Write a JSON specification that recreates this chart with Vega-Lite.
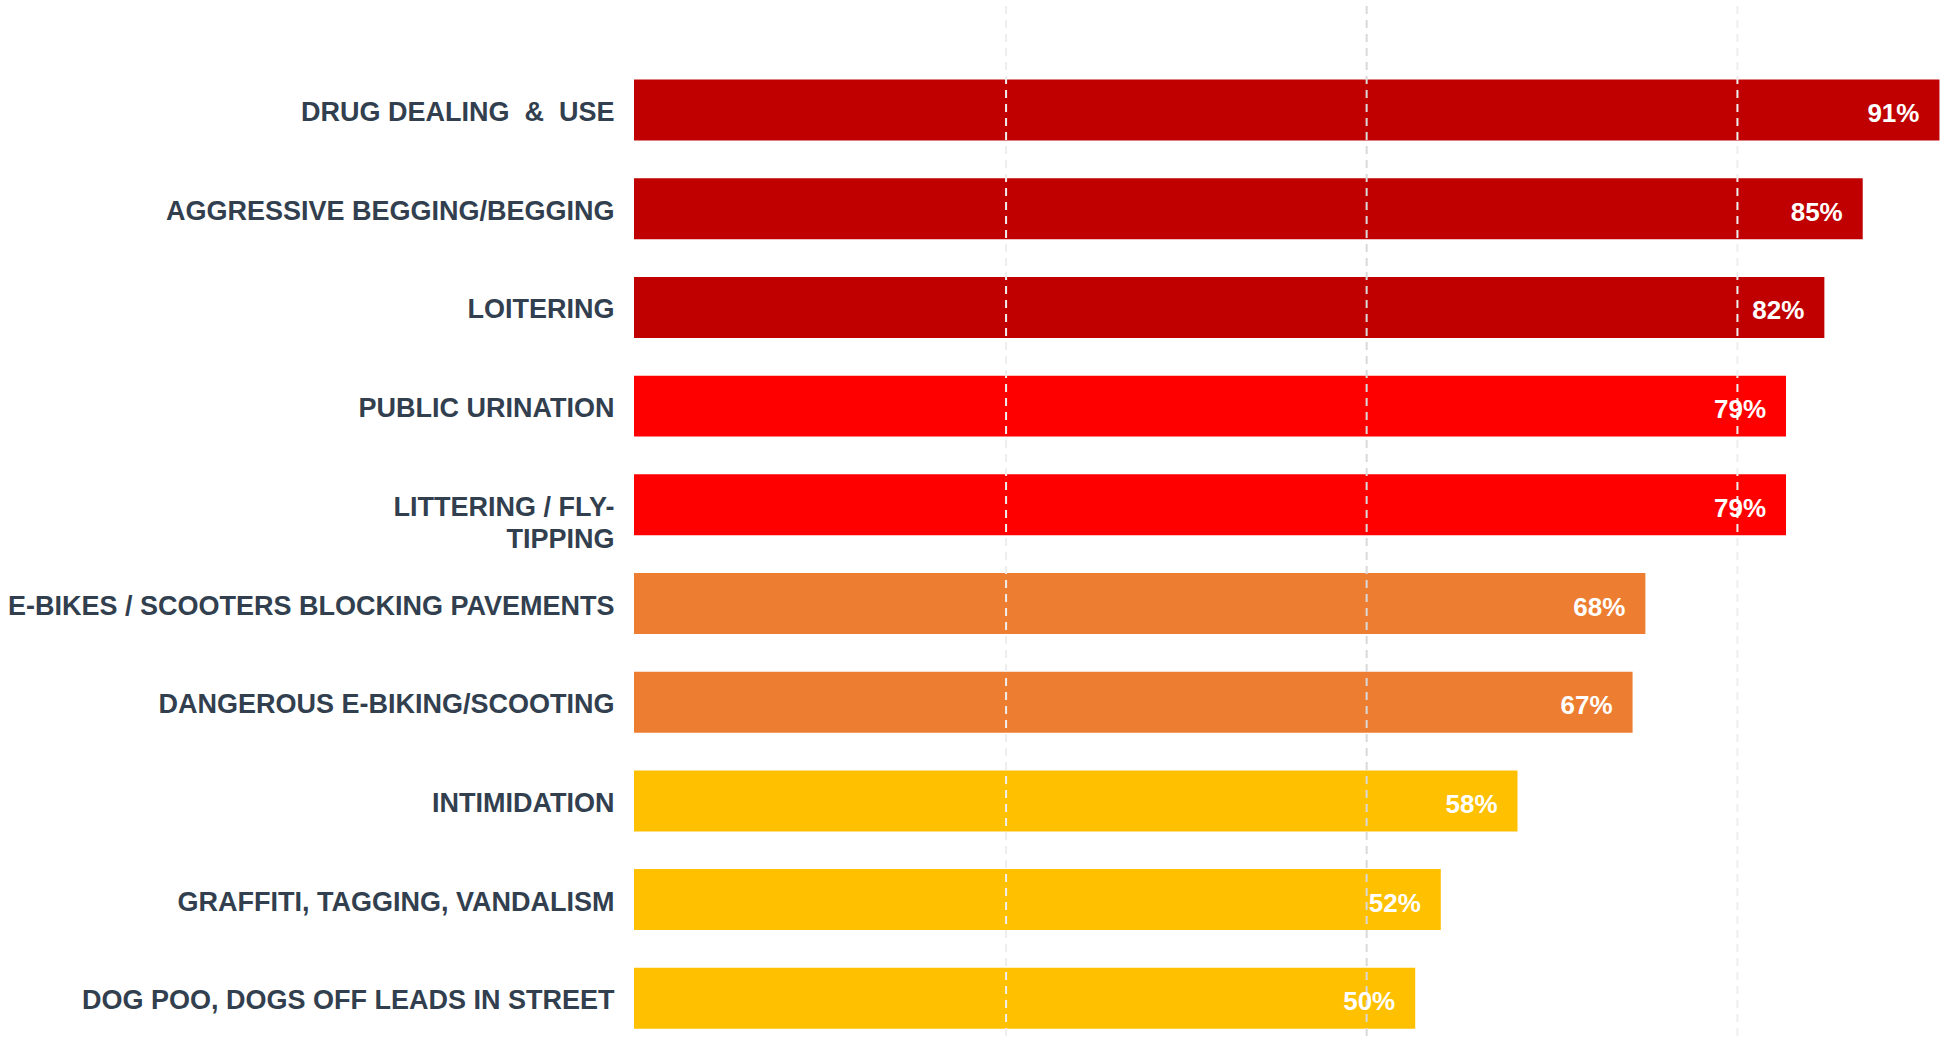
{
  "$schema": "https://vega.github.io/schema/vega-lite/v6.json",
  "width": 1308,
  "height": 1032,
  "autosize": {"type": "none"},
  "padding": {"left": 634, "top": 6, "right": 0, "bottom": 6},
  "background": "white",
  "config": {"view": {"stroke": null}},
  "datasets": {
    "issues": [
      {"issue": "DRUG DEALING\u00a0 &\u00a0 USE", "pct": 0.91, "tier": "Highest"},
      {"issue": "AGGRESSIVE BEGGING/BEGGING", "pct": 0.85, "tier": "Highest"},
      {"issue": "LOITERING", "pct": 0.82, "tier": "Highest"},
      {"issue": "PUBLIC URINATION", "pct": 0.79, "tier": "High"},
      {"issue": "LITTERING / FLY-TIPPING", "pct": 0.79, "tier": "High"},
      {"issue": "E-BIKES / SCOOTERS BLOCKING PAVEMENTS", "pct": 0.68, "tier": "Medium"},
      {"issue": "DANGEROUS E-BIKING/SCOOTING", "pct": 0.67, "tier": "Medium"},
      {"issue": "INTIMIDATION", "pct": 0.58, "tier": "Lower"},
      {"issue": "GRAFFITI, TAGGING, VANDALISM", "pct": 0.52, "tier": "Lower"},
      {"issue": "DOG POO, DOGS OFF LEADS IN STREET", "pct": 0.5, "tier": "Lower"}
    ],
    "gridMinor": [{"pct": 0.18}, {"pct": 0.752}],
    "gridMajor": [{"pct": 0.462}]
  },
  "layer": [
    {
      "data": {"name": "issues"},
      "mark": {"type": "bar"},
      "encoding": {
        "y": {
          "field": "issue",
          "type": "nominal",
          "sort": null,
          "scale": {"paddingInner": 0.382, "paddingOuter": 0.419, "align": 0.889},
          "axis": {
            "title": null,
            "domain": false,
            "ticks": false,
            "grid": false,
            "labelFont": "Liberation Sans",
            "labelFontWeight": "bold",
            "labelFontSize": 27,
            "labelColor": "#323F4F",
            "labelPadding": 20,
            "labelLimit": 700,
            "labelLineHeight": 32,
            "labelOffset": 3,
            "labelExpr": "datum.value === 'LITTERING / FLY-TIPPING' ? ['LITTERING / FLY-', 'TIPPING'] : datum.value"
          }
        },
        "x": {"field": "pct", "type": "quantitative", "scale": {"domain": [-0.111, 0.912]}, "axis": null},
        "x2": {"datum": -0.111},
        "color": {
          "field": "tier",
          "type": "nominal",
          "scale": {"domain": ["Highest", "High", "Medium", "Lower"], "range": ["#C00000", "#FF0000", "#ED7D31", "#FFC000"]},
          "legend": null
        }
      }
    },
    {
      "data": {"name": "gridMinor"},
      "mark": {"type": "rule", "color": "#EEEEEE", "strokeWidth": 2, "strokeDash": [8, 6]},
      "encoding": {"x": {"field": "pct", "type": "quantitative", "scale": {"domain": [-0.111, 0.912]}, "axis": null}}
    },
    {
      "data": {"name": "gridMajor"},
      "mark": {"type": "rule", "color": "#D9D9D9", "strokeWidth": 2, "strokeDash": [8, 6]},
      "encoding": {"x": {"field": "pct", "type": "quantitative", "scale": {"domain": [-0.111, 0.912]}, "axis": null}}
    },
    {
      "data": {"name": "issues"},
      "mark": {"type": "text", "align": "right", "baseline": "middle", "dx": -20, "dy": 4, "font": "Liberation Sans", "fontWeight": "bold", "fontSize": 26, "color": "white"},
      "encoding": {
        "y": {"field": "issue", "type": "nominal", "sort": null},
        "x": {"field": "pct", "type": "quantitative", "scale": {"domain": [-0.111, 0.912]}, "axis": null},
        "text": {"field": "pct", "type": "quantitative", "format": ".0%"}
      }
    }
  ]
}
